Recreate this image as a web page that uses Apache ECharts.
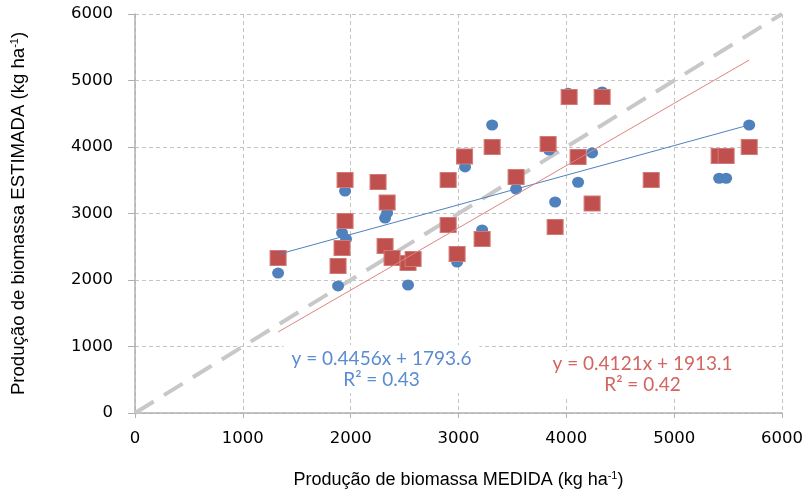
<!DOCTYPE html>
<html>
<head>
<meta charset="utf-8">
<script src="https://cdn.jsdelivr.net/npm/echarts@6/dist/echarts.min.js"></script>
<style>
  html, body { margin: 0; padding: 0; background: #ffffff; }
  #chart { width: 804px; height: 491px; }
</style>
</head>
<body>
<div id="chart"></div>
<script>
// Axis ticks (kg ha-1)
const axisTicks = [0, 1000, 2000, 3000, 4000, 5000, 6000];

// Series 1 (blue circles): measured vs estimated biomass
const blueMeasured  = [1327, 1883, 1920, 1957, 1948, 2319, 2338, 2390, 2532, 2987, 3061, 3219, 3312, 3534, 3840, 3896, 4017, 4109, 4239, 4332, 5417, 5482, 5696];
const blueEstimated = [2105, 1910, 2707, 2616, 3338, 2932, 3008, 2300, 1925, 2270, 3700, 2752, 4331, 3368, 3955, 3173, 4810, 3470, 3910, 4827, 3530, 3530, 4331];

// Series 2 (red squares)
const redMeasured  = [1327, 1883, 1920, 1948, 1948, 2254, 2319, 2338, 2384, 2532, 2579, 2904, 2904, 2987, 3056, 3219, 3312, 3534, 3831, 3896, 4026, 4109, 4239, 4332, 4787, 5417, 5482, 5696];
const redEstimated = [2331, 2211, 2481, 2887, 3504, 3474, 2511, 3165, 2331, 2256, 2316, 2827, 3504, 2391, 3858, 2617, 4000, 3549, 4045, 2797, 4752, 3850, 3150, 4752, 3504, 3865, 3865, 4000];

// Trend line coefficients shown in the equation boxes
const blueFit = { slope: 0.4456, intercept: 1793.6, r2: 0.43 };
const redFit  = { slope: 0.4121, intercept: 1913.1, r2: 0.42 };
// End points of the red trend line as drawn
const redFitLine = [[1327, 1218], [5696, 5308]];

// 1:1 reference line
const identityLine = [[0, 0], [6000, 6000]];

const zip = (xs, ys) => xs.map((x, i) => [x, ys[i]]);
const fmtEq = f => 'y = ' + f.slope + 'x + ' + f.intercept.toFixed(1);

const bxMin = Math.min(...blueMeasured), bxMax = Math.max(...blueMeasured);
const blueFitLine = [
  [bxMin, blueFit.slope * bxMin + blueFit.intercept],
  [bxMax, blueFit.slope * bxMax + blueFit.intercept]
];

const chart = echarts.init(document.getElementById('chart'), null, { renderer: 'canvas' });

const titleFont = 'Liberation Sans, Arial, sans-serif';
const tickFont = 'DejaVu Sans, sans-serif';
const eqFont = 'Lato, Open Sans, sans-serif';

const nameStyle = size => ({
  fontFamily: titleFont, fontSize: size, color: '#000', lineHeight: 20,
  rich: { sup: { fontFamily: titleFont, fontSize: 11, color: '#000', verticalAlign: 'top', lineHeight: 20 } }
});

chart.setOption({
  animation: false,
  backgroundColor: '#ffffff',
  grid: { left: 135, right: 22, top: 14, bottom: 78, containLabel: false, outerBoundsMode: 'none' },
  xAxis: {
    type: 'value',
    min: axisTicks[0], max: axisTicks[axisTicks.length - 1], interval: 1000,
    name: 'Produção de biomassa MEDIDA (kg ha{sup|-1})',
    nameLocation: 'middle', nameGap: 57,
    nameTextStyle: nameStyle(18),
    axisLine: { show: true, lineStyle: { color: '#b0b0b0', width: 1.5 } },
    axisTick: { show: true, inside: false, length: 5, lineStyle: { color: '#b0b0b0' } },
    axisLabel: { margin: 17, fontFamily: tickFont, fontSize: 16.5, color: '#000', formatter: v => String(v) },
    splitLine: { show: true, lineStyle: { color: '#c4c4c4', type: [4, 3], width: 1 } }
  },
  yAxis: {
    type: 'value',
    min: axisTicks[0], max: axisTicks[axisTicks.length - 1], interval: 1000,
    name: 'Produção de biomassa ESTIMADA (kg ha{sup|-1})',
    nameLocation: 'middle', nameGap: 106, nameRotate: 90,
    nameTextStyle: nameStyle(18.6),
    axisLine: { show: true, lineStyle: { color: '#b0b0b0', width: 1.5 } },
    axisTick: { show: true, inside: false, length: 7, lineStyle: { color: '#b0b0b0' } },
    axisLabel: { margin: 22, fontFamily: tickFont, fontSize: 16.5, color: '#000', formatter: v => String(v) },
    splitLine: { show: true, lineStyle: { color: '#c4c4c4', type: [4, 3], width: 1 } }
  },
  series: [
    {
      name: '1:1', type: 'line', data: identityLine, symbol: 'none', z: 1,
      lineStyle: { color: '#c8c8c8', width: 4, type: [22, 12] }
    },
    {
      name: 'Série azul', type: 'scatter', data: zip(blueMeasured, blueEstimated), z: 2,
      symbol: 'circle', symbolSize: [12, 11],
      itemStyle: { color: '#4f81bd', opacity: 1 }
    },
    {
      name: 'Série vermelha', type: 'scatter', data: zip(redMeasured, redEstimated), z: 3,
      symbol: 'rect', symbolSize: [16, 15],
      itemStyle: { color: '#c0504d', borderColor: '#d27a77', borderWidth: 1, opacity: 1 }
    },
    {
      name: 'Tendência azul', type: 'line', data: blueFitLine, symbol: 'none', z: 4,
      lineStyle: { color: '#4f81bd', width: 1 }
    },
    {
      name: 'Tendência vermelha', type: 'line', data: redFitLine, symbol: 'none', z: 4,
      lineStyle: { color: '#e08480', width: 1 }
    }
  ],
  graphic: [
    {
      type: 'text', x: 381.5, y: 345, z: 10,
      style: {
        text: fmtEq(blueFit) + '\nR² = ' + blueFit.r2,
        fill: '#5b8bd0', font: '19px ' + eqFont, align: 'center', verticalAlign: 'top', lineHeight: 21,
        backgroundColor: '#ffffff', padding: [3, 8, 3, 8]
      }
    },
    {
      type: 'text', x: 642.5, y: 351, z: 10,
      style: {
        text: fmtEq(redFit) + '\nR² = ' + redFit.r2,
        fill: '#d36560', font: '19px ' + eqFont, align: 'center', verticalAlign: 'top', lineHeight: 21,
        backgroundColor: '#ffffff', padding: [2, 6, 2, 6]
      }
    }
  ]
});
</script>
</body>
</html>
